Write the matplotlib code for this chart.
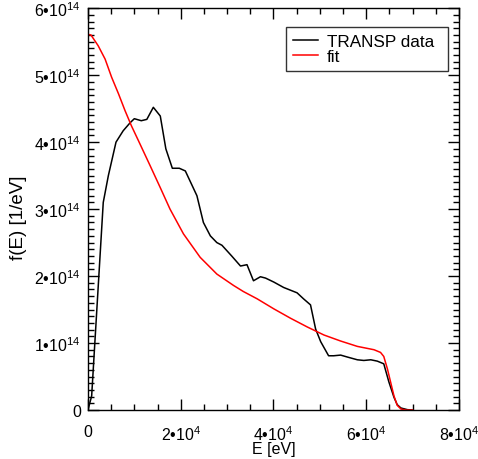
import matplotlib
matplotlib.use('Agg')
import matplotlib.pyplot as plt
from matplotlib.ticker import MultipleLocator, FuncFormatter

plt.rcParams.update({
    'font.family': 'Liberation Sans',
    'font.size': 10,
    'mathtext.fontset': 'custom',
    'mathtext.rm': 'Liberation Sans',
    'mathtext.it': 'Liberation Sans',
    'mathtext.bf': 'Liberation Sans',
})

# TRANSP data (E in eV, f in units of 1e14 /eV)
data_E = [0, 800, 3300, 4400, 6050, 7600, 9100, 10000, 11500, 12700, 14100,
          15600, 16800, 18200, 19700, 21000, 23500, 24900, 26400, 27800,
          28900, 31000, 32900, 34300, 35700, 37200, 38300, 40100, 42200,
          45100, 46500, 48000, 49100, 50200, 51900, 53000, 54500, 56000,
          58100, 59500, 61000, 62400, 63800, 64900, 66000, 66700, 67500,
          68900, 70000]
data_f = [0.0, 0.21, 3.1, 3.5, 4.0, 4.17, 4.29, 4.35, 4.32, 4.34, 4.52,
          4.39, 3.9, 3.61, 3.61, 3.57, 3.2, 2.8, 2.6, 2.5,
          2.46, 2.3, 2.15, 2.17, 1.93, 1.99, 1.97, 1.91, 1.83,
          1.75, 1.66, 1.57, 1.21, 1.02, 0.81, 0.81, 0.82, 0.79,
          0.75, 0.74, 0.75, 0.73, 0.69, 0.42, 0.19, 0.08, 0.03,
          0.005, 0.0]

# fit curve
fit_E = [0, 650, 2200, 3700, 5100, 6600, 8000, 9400, 10900, 13400, 15600,
         17700, 20600, 24200, 27800, 31400, 33500, 36500, 40100, 43700,
         47300, 50900, 54500, 58100, 61700, 63100, 63800, 64600, 65300,
         66000, 66700, 67500, 68600, 70000]
fit_f = [5.61, 5.60, 5.44, 5.24, 4.97, 4.72, 4.47, 4.24, 4.02, 3.65, 3.32,
         3.0, 2.63, 2.28, 2.03, 1.86, 1.77, 1.66, 1.51, 1.37,
         1.24, 1.12, 1.03, 0.95, 0.90, 0.86, 0.80, 0.61, 0.41,
         0.21, 0.07, 0.015, 0.0, 0.0]

fig = plt.figure(figsize=(4.78, 4.60), dpi=100)
ax = fig.add_axes([0.184, 0.1065, 0.776, 0.8735])

ax.plot(data_E, [v * 1e14 for v in data_f], color='black', lw=1.1, label='TRANSP data')
ax.plot(fit_E, [v * 1e14 for v in fit_f], color='red', lw=1.1, label='fit')

ax.set_xlim(0, 8e4)
ax.set_ylim(0, 6e14)

def sci_fmt(v, pos):
    if v == 0:
        return '0'
    exp = len(str(int(round(abs(v))))) - 1
    mant = v / 10**exp
    return f'{mant:.0f}\u2022' + '10$^{' + str(exp) + '}$'

ax.xaxis.set_major_locator(MultipleLocator(2e4))
ax.xaxis.set_minor_locator(MultipleLocator(5e3))
ax.yaxis.set_major_locator(MultipleLocator(1e14))
ax.yaxis.set_minor_locator(MultipleLocator(1e13))
ax.xaxis.set_major_formatter(FuncFormatter(sci_fmt))
ax.yaxis.set_major_formatter(FuncFormatter(sci_fmt))

ax.tick_params(which='both', direction='in', top=True, right=True, width=1.0,
               labelsize=11.5)
ax.tick_params(axis='x', which='major', pad=10)
ax.tick_params(axis='y', which='major', pad=5)
ax.tick_params(which='major', length=8)
ax.tick_params(which='minor', length=4)
for s in ax.spines.values():
    s.set_linewidth(1.0)

ax.set_xlabel('E [eV]', fontsize=11.5, labelpad=-1)
ax.set_ylabel('f(E) [1/eV]', fontsize=13.5, labelpad=4)
ax.yaxis.set_label_coords(-0.165, 0.48)

leg = ax.legend(loc='upper left', bbox_to_anchor=(0.5337, 0.0, 0.4367, 0.953),
                mode='expand', fontsize=12.3,
                frameon=True, fancybox=False, edgecolor='black',
                handlelength=1.5, handletextpad=0.5, borderpad=0.4,
                labelspacing=0.0, borderaxespad=0)
leg.get_frame().set_linewidth(1.0)

fig.savefig('out.png', dpi=100)
